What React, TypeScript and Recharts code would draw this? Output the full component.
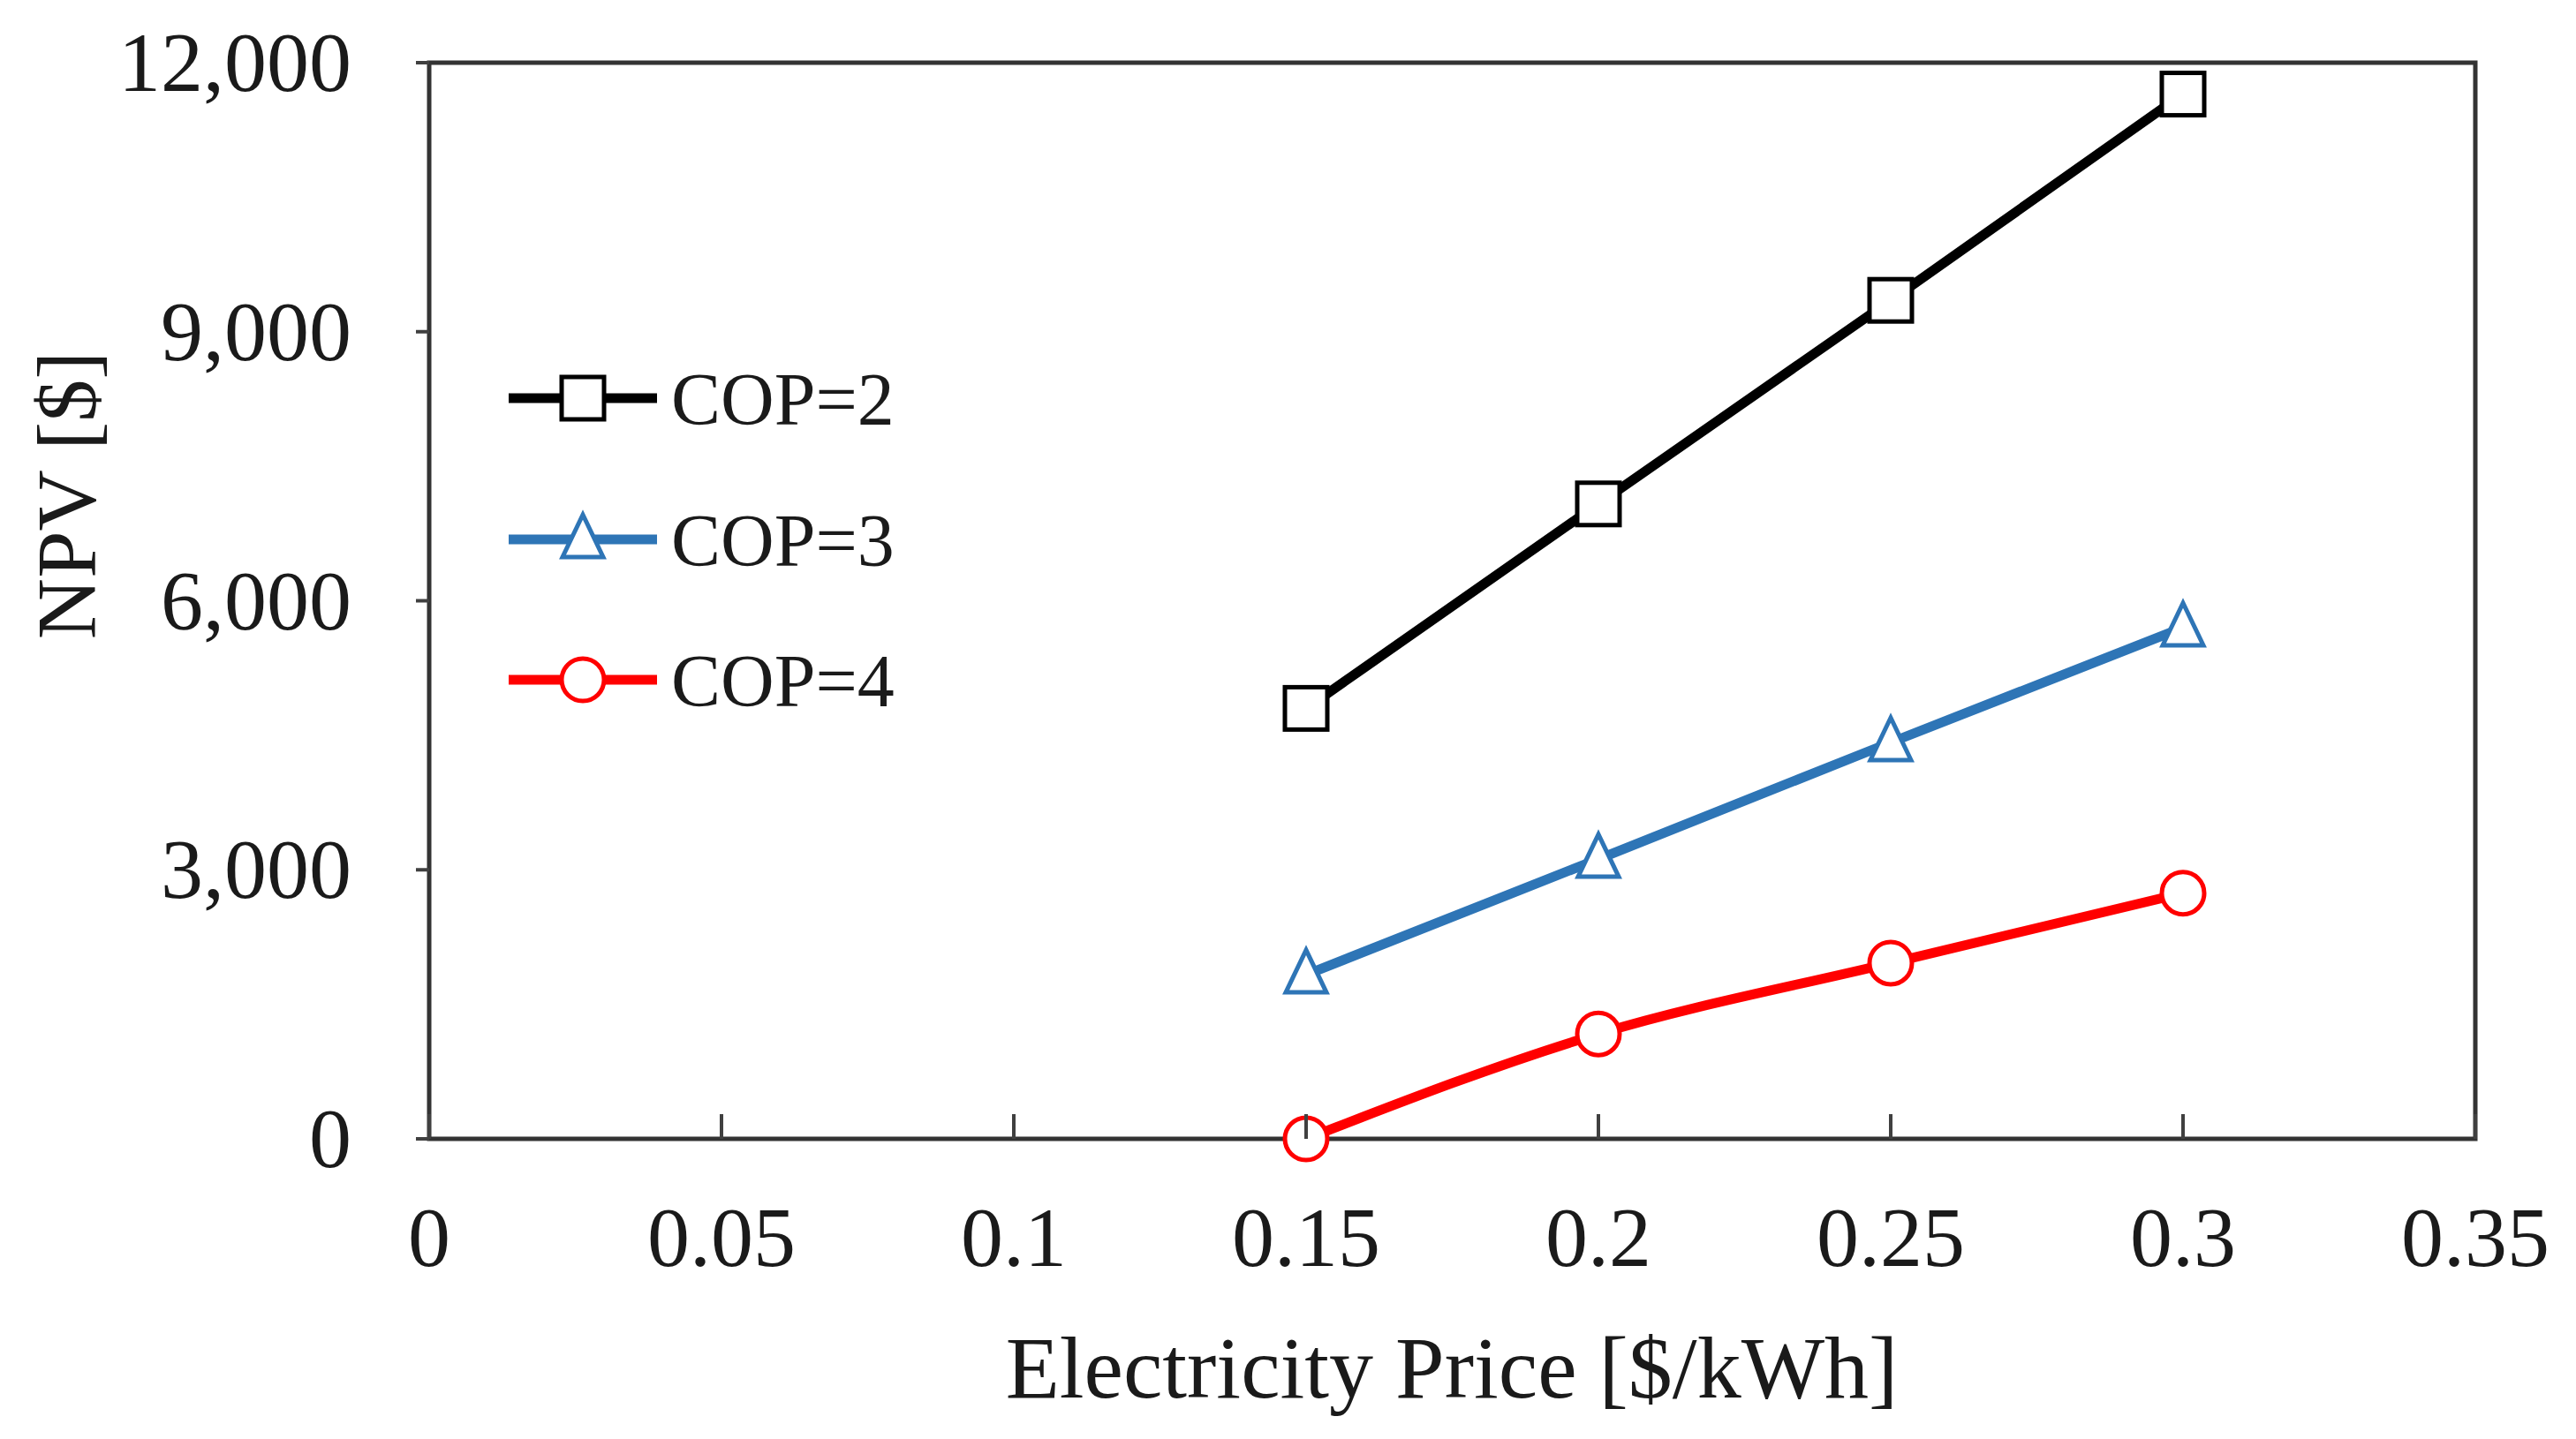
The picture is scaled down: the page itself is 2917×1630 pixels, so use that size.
import React from "react";
import { LineChart, Line, XAxis, YAxis, ReferenceArea } from "recharts";

const prices = [0.15, 0.2, 0.25, 0.3];
const cop2 = [4800, 7080, 9350, 11650];
const cop3 = [1830, 3120, 4420, 5700];
const cop4 = [0, 1170, 1960, 2740];
const xTicks = [0, 0.05, 0.1, 0.15, 0.2, 0.25, 0.3, 0.35];
const yTicks = [0, 3000, 6000, 9000, 12000];

const data = prices.map((p, i) => ({ p, c2: cop2[i], c3: cop3[i], c4: cop4[i] }));
const FONT = "'Liberation Serif', 'Times New Roman', serif";
const TXT = "#1a1a1a";

const Square = (props: any) => {
  const { cx, cy } = props;
  if (cx == null || cy == null) return null;
  return <rect x={cx - 24} y={cy - 24} width={48} height={48} fill="#fff" stroke="#000" strokeWidth={5} />;
};
const Tri = (props: any) => {
  const { cx, cy } = props;
  if (cx == null || cy == null) return null;
  return <polygon points={`${cx},${cy - 28} ${cx - 23},${cy + 20} ${cx + 23},${cy + 20}`} fill="#fff" stroke="#2E75B6" strokeWidth={5} />;
};
const Circ = (props: any) => {
  const { cx, cy } = props;
  if (cx == null || cy == null) return null;
  return <circle cx={cx} cy={cy} r={24} fill="#fff" stroke="#FF0000" strokeWidth={5} />;
};

const XTick = (props: any) => {
  const { x, y, payload } = props;
  return (
    <g>
      <line x1={x} y1={y} x2={x} y2={y - 28} stroke="#404040" strokeWidth={4} />
      <text x={x} y={y + 144} textAnchor="middle" fontFamily={FONT} fontSize={96} fill={TXT}>{String(payload.value)}</text>
    </g>
  );
};
const YTick = (props: any) => {
  const { x, y, payload } = props;
  return (
    <g>
      <line x1={x} y1={y} x2={x - 15} y2={y} stroke="#404040" strokeWidth={4} />
      <text x={x - 88} y={y + 32} textAnchor="end" fontFamily={FONT} fontSize={96} fill={TXT}>{payload.value.toLocaleString("en-US")}</text>
    </g>
  );
};

const legendRows = [
  { label: "COP=2", color: "#000", M: Square, y: 443 },
  { label: "COP=3", color: "#2E75B6", M: Tri, y: 603 },
  { label: "COP=4", color: "#FF0000", M: Circ, y: 762 },
];

export default function App() {
  return (
    <div style={{ position: "relative", width: 2900, height: 1614 }}>
      <LineChart width={2900} height={1614} data={data} margin={{ top: 63, right: 105, bottom: 182, left: 0 }}>
        <XAxis dataKey="p" type="number" domain={[0, 0.35]} ticks={xTicks} axisLine={false} tickLine={false} tickSize={0} tickMargin={0} tick={<XTick />} height={150} interval={0} />
        <YAxis type="number" domain={[0, 12000]} ticks={yTicks} axisLine={false} tickLine={false} tickSize={0} tickMargin={0} tick={<YTick />} width={478} interval={0} />
        <ReferenceArea x1={0} x2={0.35} y1={0} y2={12000} fill="none" stroke="#333" strokeWidth={5} ifOverflow="visible" />
        <Line dataKey="c2" type="linear" stroke="#000" strokeWidth={11} dot={<Square />} isAnimationActive={false} />
        <Line dataKey="c3" type="linear" stroke="#2E75B6" strokeWidth={11} dot={<Tri />} isAnimationActive={false} />
        <Line dataKey="c4" type="monotone" stroke="#FF0000" strokeWidth={11} dot={<Circ />} isAnimationActive={false} />
      </LineChart>
      <svg width={2900} height={1614} style={{ position: "absolute", left: 0, top: 0, pointerEvents: "none" }}>
        {legendRows.map((r) => (
          <g key={r.label}>
            <line x1={568} x2={736} y1={r.y} y2={r.y} stroke={r.color} strokeWidth={11} />
            <r.M cx={652} cy={r.y} />
            <text x={752} y={r.y + 30} fontFamily={FONT} fontSize={84} fill={TXT}>{r.label}</text>
          </g>
        ))}
        <text transform="translate(100,553) rotate(-90)" textAnchor="middle" fontFamily={FONT} fontSize={96} fill={TXT}>NPV [$]</text>
        <text x={1636} y={1575} textAnchor="middle" fontFamily={FONT} fontSize={100} fill={TXT}>Electricity Price [$/kWh]</text>
      </svg>
    </div>
  );
}
